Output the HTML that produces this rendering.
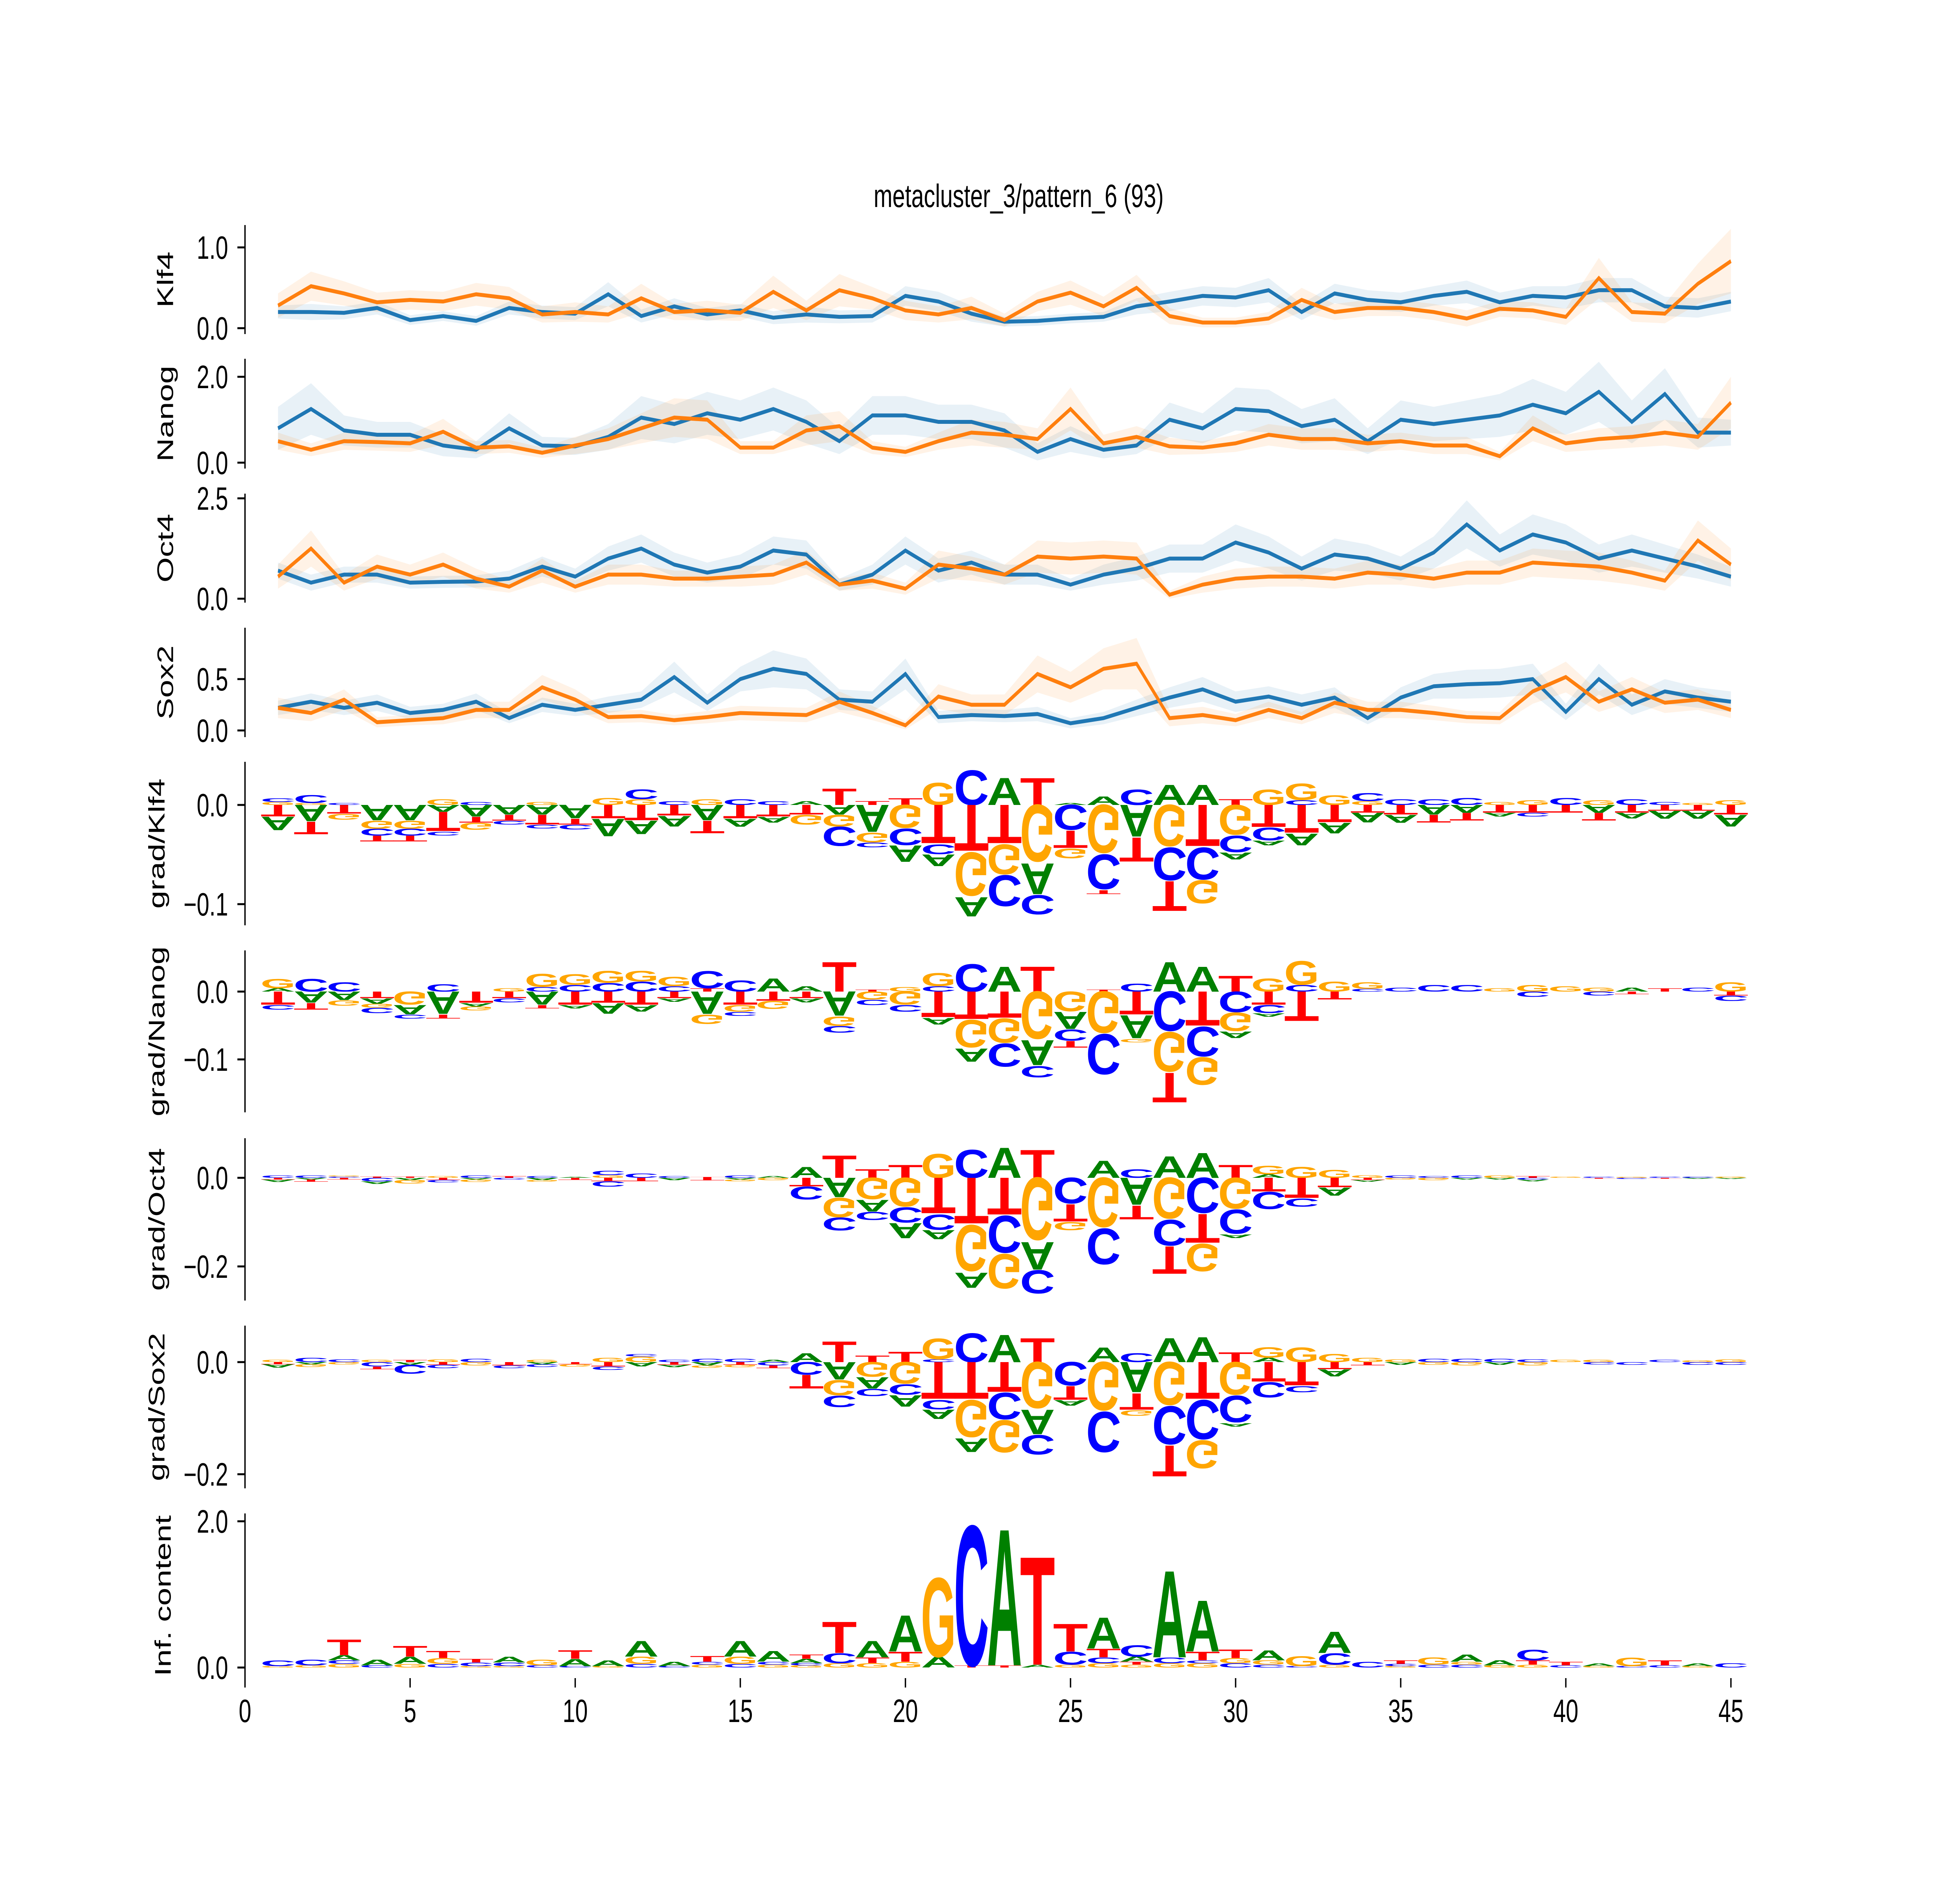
<!DOCTYPE html>
<html><head><meta charset="utf-8"><style>
html,body{margin:0;padding:0;background:#fff;overflow:hidden;width:100%;height:100%;}
svg{display:block;width:100vw;height:100vh;}
text{font-family:"Liberation Sans","DejaVu Sans",sans-serif;}
</style></head><body>
<svg id="fig" xmlns="http://www.w3.org/2000/svg" viewBox="0 0 7200 4800" preserveAspectRatio="none">
<rect x="0" y="0" width="7200" height="4800" fill="#fff"/>
<text x="3742" y="528" font-size="83" text-anchor="middle" fill="#000">metacluster_3/pattern_6 (93)</text>
<g id="plots"></g>
</svg>
<script>
const klf4Blue=[.2,.2,.19,.25,.1,.15,.09,.25,.2,.18,.42,.15,.27,.17,.22,.13,.17,.14,.15,.4,.33,.18,.08,.09,.12,.14,.27,.33,.4,.38,.47,.2,.43,.35,.32,.4,.45,.32,.4,.38,.47,.47,.27,.25,.33];
const klf4Orange=[.28,.52,.43,.32,.35,.33,.42,.37,.17,.2,.17,.37,.2,.22,.19,.45,.22,.47,.37,.22,.17,.25,.1,.33,.44,.27,.5,.15,.07,.07,.12,.35,.2,.25,.25,.2,.12,.24,.22,.14,.62,.2,.18,.55,.83];
const klf4BlueErr=[.08,.1,.08,.08,.06,.06,.06,.08,.08,.08,.15,.08,.1,.08,.08,.08,.1,.08,.08,.12,.12,.1,.06,.06,.06,.06,.1,.12,.12,.12,.15,.1,.12,.12,.12,.12,.14,.12,.12,.14,.15,.15,.12,.12,.12];
const klf4OrangeErr=[.15,.18,.15,.12,.12,.12,.14,.14,.1,.12,.1,.18,.1,.12,.1,.2,.12,.2,.14,.12,.1,.14,.08,.12,.15,.12,.16,.1,.06,.06,.08,.15,.1,.1,.1,.1,.1,.1,.1,.1,.25,.12,.12,.25,.4];
const nanogBlue=[.8,1.25,.75,.65,.65,.4,.3,.8,.4,.38,.6,1.05,.9,1.15,1.0,1.25,.95,.5,1.1,1.1,.95,.95,.75,.25,.55,.3,.4,1.0,.8,1.25,1.2,.85,1.0,.5,1.0,.9,1.0,1.1,1.35,1.15,1.65,.95,1.6,.7,.7];
const nanogOrange=[.5,.3,.5,.48,.45,.72,.35,.38,.23,.4,.55,.8,1.05,1.0,.35,.35,.75,.85,.35,.25,.5,.7,.65,.55,1.25,.45,.6,.38,.35,.45,.65,.55,.55,.45,.5,.4,.4,.15,.8,.45,.55,.6,.7,.6,1.4];
const nanogBlueErr=[.5,.6,.35,.3,.3,.25,.2,.35,.2,.2,.3,.5,.45,.5,.45,.5,.5,.3,.45,.45,.4,.4,.4,.2,.3,.2,.2,.4,.35,.5,.5,.4,.5,.3,.45,.4,.45,.5,.6,.5,.7,.5,.6,.35,.3];
const nanogOrangeErr=[.2,.15,.2,.2,.2,.3,.15,.15,.12,.2,.25,.35,.45,.45,.15,.15,.35,.35,.15,.12,.2,.3,.3,.25,.5,.2,.25,.2,.15,.2,.25,.25,.25,.2,.2,.2,.2,.1,.3,.2,.25,.25,.3,.3,.6];
const oct4Blue=[.7,.4,.6,.6,.4,.42,.43,.5,.8,.55,1.0,1.25,.85,.65,.8,1.2,1.1,.35,.6,1.2,.7,.9,.6,.6,.35,.6,.75,1.0,1.0,1.4,1.15,.75,1.1,1.0,.75,1.15,1.85,1.2,1.6,1.4,1.0,1.2,1.0,.8,.55];
const oct4Orange=[.55,1.25,.4,.8,.6,.85,.5,.3,.7,.3,.6,.6,.5,.5,.55,.6,.9,.35,.45,.25,.85,.75,.6,1.05,1.0,1.05,1.0,.1,.35,.5,.55,.55,.5,.65,.6,.5,.65,.65,.9,.85,.8,.65,.45,1.45,.85];
const oct4BlueErr=[.2,.2,.2,.2,.15,.15,.15,.2,.25,.2,.3,.35,.3,.25,.3,.35,.35,.15,.25,.35,.3,.3,.25,.25,.15,.25,.3,.35,.35,.45,.4,.3,.4,.35,.3,.4,.6,.4,.5,.45,.35,.4,.35,.3,.25];
const oct4OrangeErr=[.3,.45,.2,.3,.25,.3,.25,.15,.3,.15,.25,.25,.2,.2,.25,.25,.3,.15,.2,.15,.35,.3,.25,.4,.4,.4,.4,.1,.2,.25,.25,.25,.25,.3,.25,.25,.3,.3,.35,.35,.35,.3,.25,.5,.4];
const sox2Blue=[.22,.28,.22,.27,.17,.2,.28,.12,.25,.2,.25,.3,.52,.27,.5,.6,.55,.3,.28,.55,.13,.15,.14,.16,.07,.12,.22,.32,.4,.28,.33,.25,.32,.12,.32,.43,.45,.46,.5,.18,.5,.25,.38,.32,.28];
const sox2Orange=[.22,.17,.3,.08,.1,.12,.2,.2,.42,.3,.13,.14,.1,.13,.17,.16,.15,.28,.17,.05,.33,.25,.25,.55,.42,.6,.65,.12,.15,.1,.2,.12,.27,.2,.2,.17,.13,.12,.38,.52,.28,.4,.27,.3,.2];
const sox2BlueErr=[.07,.08,.07,.08,.06,.06,.08,.05,.07,.06,.08,.08,.15,.08,.12,.18,.15,.1,.1,.15,.06,.06,.06,.07,.05,.06,.08,.1,.12,.1,.1,.1,.1,.06,.1,.12,.14,.14,.15,.08,.15,.1,.12,.1,.1];
const sox2OrangeErr=[.1,.08,.1,.05,.05,.06,.08,.08,.12,.1,.06,.06,.05,.06,.07,.07,.07,.1,.07,.04,.12,.1,.1,.18,.15,.2,.25,.08,.08,.06,.08,.06,.1,.08,.08,.07,.06,.06,.12,.15,.1,.12,.1,.1,.08];

const gradKlf4=["G3C4/T12A14","G2C8/A17T13","C2/T9G6","/A16G8C7T6","/A16G8C7T6","G6/A7T20C4","C3/A12T6G7","/A10T6C4","G3/A10T10C4","/A14T6C5","G7/T14A18","G6C10/T16A14","C4/T11A11","G6/A16T13","C6/T14A8","C4/T12A6","A4/T10G10","T17/A10G12C20","T4/A28G10C5","T7/G24C17A17","G23/T40C10A12","C36/T48G45A20","A28/T40G31C32","T28/G59A32C20","A2/C26T18G10","A9/G50C36T4","C16/A33T25","A21/G43C34T31","A21/T43C33G24","T6/G31C17A7","G16/T23C13A5","C5G17/T29A12","G10/T18A11","G4C8/T8A10","C6/T10A8","C6/A10T8","C7/A8T8","G3/T8A4","G5/T8C4","C7/T8","G5/A8T8","C6/T8A6","C3/T6A8","G2/T6A8","G5/T10A12"];
const gradNanog=["A5G14/T20C7","C19/A17T10","C14/A13G8","/T10A8G6C8","/G20A14C6","C11/A34T6","/T17A5G6","G5/T10C6","C7G20/A20T5","C10G16/T20A5","C13G18/T17A16","C15G16/T20A10","C8G14/T10A5","T5C26/A34G14","C17/T20G10C6","A20/T14G12","A8/T10A6","T45/A37G14C10","T3/G12C8","G7/G20C10","C8G20/T39A10","C42/T42G42A20","A38/T40G37C35","T38/G72A38C17","/G30A26C17T10","T3/G63C61","C12/T35A35G5","A45/C60G60T45","A38/T52C45G42","T24/C31G28A10","G20/T20C12A5","C10G36/T45","G15/T12","C4G10/","C6/","C10/","C10/","G5/","G10/C8","G8/","G6/C6","A6/T4","T5/","C6/","G14/T6C8"];
const gradOct4=["C5/T4A5","C5/A4T5","C3G2/T4","T3/C8A6","T3/A5G8","G4/T5C5","C5/A4G5","T4/C4","C4/A5G4","A2/T5","G6C10/T8C12","C10/T8","C4/A5","T2/T6","C5/A4G4","A4/G5","A25/T20C30","T52/A45G45C30","T20/G50A27C19","T30/G67C35A35","G56/T83C35A21","C65/T107G107A35","A70/T86C86G80","T65/G145A64C54","/C60T40G19","A40/G115C83","C20/A63T32","A50/G95C60T64","A58/C82T67G64","T30/G72C56A8","A8G20/T32C40","G25/T47C19","G18/T22A19","G6/T5A4","C5/G4","C4/G5","C5/A4","G5/A4","T4/C4A4","G3/","C3/T2","G2/C3","C3/T2","C3/A2","G3/A3"];
const gradSox2=["G4/T4A6","C8/A4G5","C5/G4","G4/C8T5","T4/A5C16","G5/T5C6","C6/G6","/T6C5","G4/A4C5","/T4G4","G8/T8C6","G10C4/A8","C4/T5A4","C6/A6G4","C6/T5G4","A4/C6T5","A16/C23T25","T38/A32G28C21","T12/G27A21C13","T19/G40C19A21","C5G38/T68C17A17","C53/T68G68A25","A50/T55C49G59","T44/G85A45C36","/C43T25A10","A27/G89C74","C16/A56T30G10","A44/G79C70T57","A46/T68C72G51","T18/G60C49A6","A8G19/T36C28","G27/T43C11","G15/T13A13","G8/T6","G5/A5","C6/G5","C6/G6","C6/A5","C5/G6","G4/","G4/C4","/C5","C4/","G3/C5","G5/C5"];
const infoContent=["G20C80","G30C80","G50C50A70T220","C30A80","G50A100T150","C50G80T100","G20C50T50","G20C50A80","C30G80","C20A100T120","G20A80","C50G100A220","C20A60","G40C40T80","C50G100A220","G40C40A150","G30C30A60T60","G60C140T440","G60T80A230","G80T140A510","A150G1110","T30C1970","T30A1920","A40T1520","G40C180T390","G60C80T120A440","G40T40A70C160","G60C80A1220","G60C40T120A720","C60G70T120","C40G60A140","C20G140","G40C160A300","C80","G20C30T50","C40G100","C40G40A100","G30A70","G40T60C150","C30T50","G20A40","C20G120","C30T70","G20A40","C60"];
const xTicks=[0,5,10,15,20,25,30,35,40,45];

const NS="http://www.w3.org/2000/svg";
const root=document.getElementById('plots');
const X0=900, XU=121.3;
const xPix=p=>X0+XU*p;
const COL={A:"#008000",C:"#0000ff",G:"#ffa500",T:"#ff0000"};
function mk(tag,attrs,parent){const e=document.createElementNS(NS,tag);for(const k in attrs)e.setAttribute(k,attrs[k]);(parent||root).appendChild(e);return e;}

function axisFrame(g,top,bottom,ticks,zero,scale,label,labelX,nameBase){
  const sp=mk('line',{x1:X0,x2:X0,y1:top,y2:bottom,stroke:'#000','stroke-width':5},g);
  
  
  ticks.forEach(t=>{
    const y=zero-t.v*scale;
    const tl=mk('line',{x1:X0-28,x2:X0,y1:y,y2:y,stroke:'#000','stroke-width':5},g);
    
    
    const tx=mk('text',{x:838,y:y+29,'font-size':83,'text-anchor':'end',fill:'#000'},g);
    tx.textContent=t.s;
    
    
  });
  const cy=(top+bottom)/2;
  const lb=mk('text',{x:labelX,y:cy,'font-size':83,'text-anchor':'middle',transform:`rotate(-90 ${labelX} ${cy})`,fill:'#000'},g);
  lb.textContent=label;
  
  
}

function linePanel(name,label,top,bottom,zero,scale,ticks,blue,orange,bErr,oErr){
  const g=mk('g',{});
  
  
  const yv=v=>zero-v*scale;
  [[blue,bErr,'#1f77b4','blue'],[orange,oErr,'#ff7f0e','orange']].forEach(([vals,err,c,nm])=>{
    const up=vals.map((v,i)=>xPix(i+1)+','+yv(v+err[i]));
    const lo=vals.map((v,i)=>xPix(i+1)+','+yv(v-err[i])).reverse();
    const band=mk('polygon',{points:up.concat(lo).join(' '),fill:c,'fill-opacity':0.1},g);
    
    
  });
  [[blue,'#1f77b4','blue'],[orange,'#ff7f0e','orange']].forEach(([vals,c,nm])=>{
    const pl=mk('polyline',{points:vals.map((v,i)=>xPix(i+1)+','+yv(v)).join(' '),fill:'none',stroke:c,'stroke-width':10,'stroke-linejoin':'miter'},g);
    
    
  });
  axisFrame(g,top,bottom,ticks,zero,scale,label,636,name);
}

function drawLetter(g,letter,p,a,h,flip,nm){
  if(h<0.5)return;
  const w=XU*1.06;
  const xl=xPix(p)-w/2;
  const sy=h/71.6;
  const t=mk('text',{x:0,y:0,'font-size':100,'font-weight':'bold',textLength:100,lengthAdjust:'spacingAndGlyphs',fill:COL[letter],
    transform:flip?`translate(${xl},${a}) scale(${w/100},${-sy})`:`translate(${xl},${a}) scale(${w/100},${sy})`},g);
  t.textContent=letter;
  
  
}
function parseStack(s){const out=[];const re=/([ACGT])(\d+)/g;let m;while((m=re.exec(s)))out.push([m[1],+m[2]/1000]);return out;}

function logoPanel(name,label,labelX,top,bottom,zero,scale,ticks,stacks){
  const g=mk('g',{});
  
  
  stacks.forEach((s,i)=>{
    const p=i+1;
    const parts=s.split('/');
    let y=zero;
    parseStack(parts[0]).forEach(([L,v])=>{const h=v*scale;drawLetter(g,L,p,y,h,false,name+'-letter-'+L);y-=h;});
    y=zero;
    if(parts[1])parseStack(parts[1]).forEach(([L,v])=>{const h=v*scale;drawLetter(g,L,p,y,h,true,name+'-letter-'+L);y+=h;});
  });
  axisFrame(g,top,bottom,ticks,zero,scale,label,labelX,name);
}

linePanel('klf4','Klf4',574,852,837,206,[{v:0,s:'0.0'},{v:1,s:'1.0'}],klf4Blue,klf4Orange,klf4BlueErr,klf4OrangeErr);
linePanel('nanog','Nanog',915,1195,1180,109.5,[{v:0,s:'0.0'},{v:2,s:'2.0'}],nanogBlue,nanogOrange,nanogBlueErr,nanogOrangeErr);
linePanel('oct4','Oct4',1259,1537,1527,102.4,[{v:0,s:'0.0'},{v:2.5,s:'2.5'}],oct4Blue,oct4Orange,oct4BlueErr,oct4OrangeErr);
linePanel('sox2','Sox2',1601,1880,1863,262,[{v:0,s:'0.0'},{v:0.5,s:'0.5'}],sox2Blue,sox2Orange,sox2BlueErr,sox2OrangeErr);
logoPanel('grad-klf4','grad/Klf4',604,1943,2360,2053,2530,[{v:0,s:'0.0'},{v:-0.1,s:'\u22120.1'}],gradKlf4);
logoPanel('grad-nanog','grad/Nanog',604,2424,2837,2529,1730,[{v:0,s:'0.0'},{v:-0.1,s:'\u22120.1'}],gradNanog);
logoPanel('grad-oct4','grad/Oct4',604,2903,3317,3004,1130,[{v:0,s:'0.0'},{v:-0.2,s:'\u22120.2'}],gradOct4);
logoPanel('grad-sox2','grad/Sox2',604,3381,3796,3474,1430,[{v:0,s:'0.0'},{v:-0.2,s:'\u22120.2'}],gradSox2);
logoPanel('info-content','Inf. content',627,3860,4280,4253,186.5,[{v:0,s:'0.0'},{v:2,s:'2.0'}],infoContent);

const xg=mk('g',{});


xTicks.forEach(t=>{
  const x=xPix(t);
  const tl=mk('line',{x1:x,x2:x,y1:4280,y2:4304,stroke:'#000','stroke-width':5},xg);
  
  
  const tx=mk('text',{x:x,y:4392,'font-size':83,'text-anchor':'middle',fill:'#000'},xg);
  tx.textContent=String(t);
  
  
});
</script>
</body></html>
